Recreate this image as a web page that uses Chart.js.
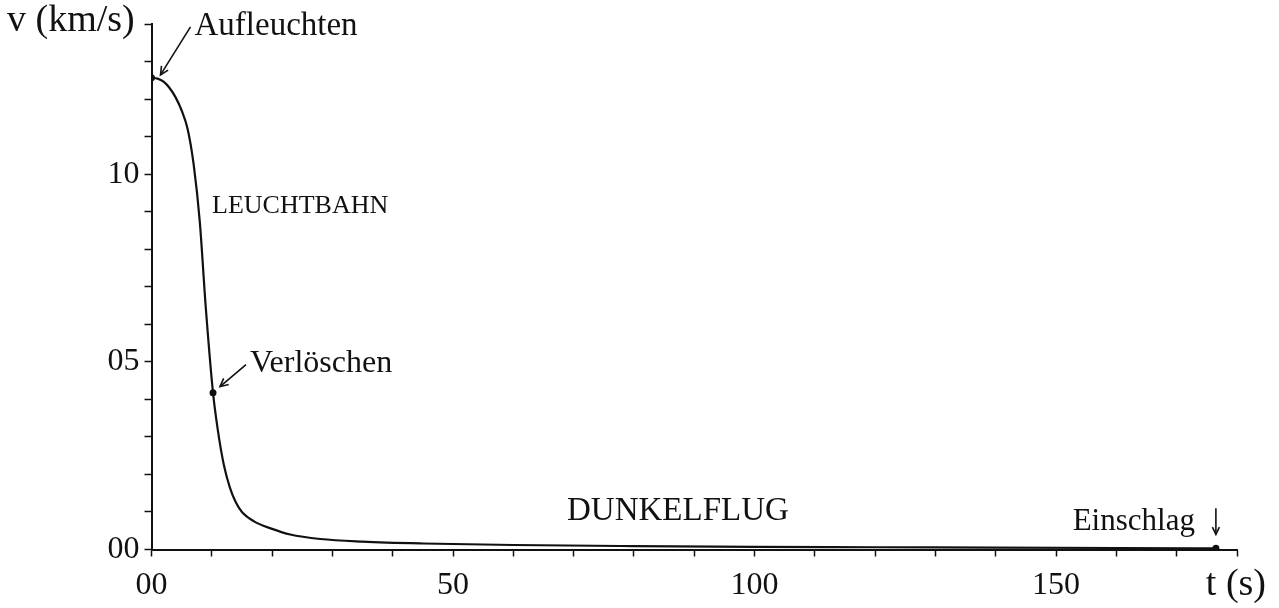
<!DOCTYPE html>
<html>
<head>
<meta charset="utf-8">
<script src="https://cdn.jsdelivr.net/npm/chart.js@4.4.1/dist/chart.umd.min.js"></script>
<style>
  html, body { margin: 0; padding: 0; background: #fff; }
  #wrap { width: 1279px; height: 608px; position: relative; }
</style>
</head>
<body>
<div id="wrap"><canvas id="c" width="1279" height="608"></canvas></div>
<script>
// Flight time of the meteorite (s) and its speed (km/s)
const timeS = [0, 1, 2, 3, 4, 5, 6, 7, 8, 9, 10.2, 11, 12, 13, 14, 15, 17, 20, 23, 28, 35, 45, 60, 80, 100, 120, 140, 160, 176.5];
const speedKmS = [12.57, 12.55, 12.47, 12.3, 12.05, 11.7, 11.2, 10.25, 8.75, 6.45, 4.18, 3.18, 2.25, 1.65, 1.25, 1.0, 0.75, 0.55, 0.40, 0.28, 0.21, 0.16, 0.12, 0.09, 0.07, 0.06, 0.05, 0.04, 0.03];

// Marked events: first glow, extinction, impact
const eventNames = ['Aufleuchten', 'Verlöschen', 'Einschlag'];
const eventTimeS = [0, 10.2, 176.5];
const eventSpeedKmS = [12.57, 4.18, 0.03];

// Tick labels
const xTickLabels = { 0: '00', 50: '50', 100: '100', 150: '150' };
const yTickLabels = { 0: '00', 5: '05', 10: '10' };

// Phase names
const phaseNames = ['LEUCHTBAHN', 'DUNKELFLUG'];

const INK = '#111';
const SERIF = '"Liberation Serif", "DejaVu Serif", serif';

function arrow(ctx, x1, y1, x2, y2, head) {
  ctx.beginPath();
  ctx.moveTo(x1, y1);
  ctx.lineTo(x2, y2);
  ctx.stroke();
  const a = Math.atan2(y2 - y1, x2 - x1);
  ctx.beginPath();
  ctx.moveTo(x2 - head * Math.cos(a - 0.45), y2 - head * Math.sin(a - 0.45));
  ctx.lineTo(x2, y2);
  ctx.lineTo(x2 - head * Math.cos(a + 0.45), y2 - head * Math.sin(a + 0.45));
  ctx.stroke();
}

const labelsPlugin = {
  id: 'labels',
  afterDraw(chart) {
    const { ctx, scales: { x, y } } = chart;
    ctx.save();
    ctx.fillStyle = INK;
    ctx.strokeStyle = INK;
    ctx.lineWidth = 1.6;
    ctx.textBaseline = 'alphabetic';
    ctx.textAlign = 'left';

    // axis titles
    ctx.font = '38px ' + SERIF;
    ctx.fillText('v (km/s)', 7, 31);
    ctx.textAlign = 'right';
    ctx.fillText('t (s)', 1266, 595);
    ctx.textAlign = 'left';

    // Aufleuchten
    const p0x = x.getPixelForValue(eventTimeS[0]);
    const p0y = y.getPixelForValue(eventSpeedKmS[0]);
    ctx.font = '33px ' + SERIF;
    ctx.fillText(eventNames[0], p0x + 43, p0y - 43);
    arrow(ctx, p0x + 39, p0y - 51, p0x + 9, p0y - 3, 9);

    // Verlöschen
    const p1x = x.getPixelForValue(eventTimeS[1]);
    const p1y = y.getPixelForValue(eventSpeedKmS[1]);
    ctx.font = '32px ' + SERIF;
    ctx.fillText(eventNames[1], p1x + 37, p1y - 21);
    arrow(ctx, p1x + 33, p1y - 28, p1x + 7, p1y - 6, 9);

    // Einschlag
    const p2x = x.getPixelForValue(eventTimeS[2]);
    const p2y = y.getPixelForValue(eventSpeedKmS[2]);
    ctx.textAlign = 'right';
    ctx.font = '31px ' + SERIF;
    ctx.fillText(eventNames[2], p2x - 21, p2y - 18);
    arrow(ctx, p2x, p2y - 40, p2x, p2y - 14, 8);

    // phase names
    ctx.textAlign = 'left';
    ctx.font = '26px ' + SERIF;
    ctx.fillText(phaseNames[0], 212, 213);
    ctx.font = '33px ' + SERIF;
    ctx.fillText(phaseNames[1], 567, 520);
    ctx.restore();
  }
};

new Chart(document.getElementById('c'), {
  type: 'line',
  data: {
    datasets: [
      {
        data: timeS.map((t, i) => ({ x: t, y: speedKmS[i] })),
        borderColor: INK,
        borderWidth: 2.2,
        pointRadius: 0,
        cubicInterpolationMode: 'monotone',
        fill: false
      },
      {
        data: eventTimeS.map((t, i) => ({ x: t, y: eventSpeedKmS[i] })),
        showLine: false,
        pointRadius: 3.5,
        pointBackgroundColor: INK,
        pointBorderColor: INK,
        pointBorderWidth: 0
      }
    ]
  },
  options: {
    responsive: false,
    animation: false,
    events: [],
    layout: { padding: { left: 0, top: 21, right: 42, bottom: 0 } },
    plugins: { legend: { display: false }, tooltip: { enabled: false } },
    scales: {
      x: {
        type: 'linear',
        min: 0,
        max: 180,
        afterFit(s) { s.height = 58.5; },
        border: { display: true, color: INK, width: 2 },
        grid: { drawOnChartArea: false, drawTicks: true, tickLength: 7, tickColor: INK, tickWidth: 1.5 },
        ticks: {
          stepSize: 10,
          autoSkip: false,
          maxRotation: 0,
          padding: 10,
          color: INK,
          font: { family: SERIF, size: 32 },
          callback: v => (xTickLabels[v] !== undefined ? xTickLabels[v] : '')
        }
      },
      y: {
        min: 0,
        max: 14,
        afterFit(s) { s.width = 151.5; },
        border: { display: true, color: INK, width: 2 },
        grid: { drawOnChartArea: false, drawTicks: true, tickLength: 7, tickColor: INK, tickWidth: 1.5 },
        ticks: {
          stepSize: 1,
          autoSkip: false,
          padding: 5,
          color: INK,
          font: { family: SERIF, size: 32 },
          callback: v => (yTickLabels[v] !== undefined ? yTickLabels[v] : '')
        }
      }
    }
  },
  plugins: [labelsPlugin]
});
</script>
</body>
</html>
